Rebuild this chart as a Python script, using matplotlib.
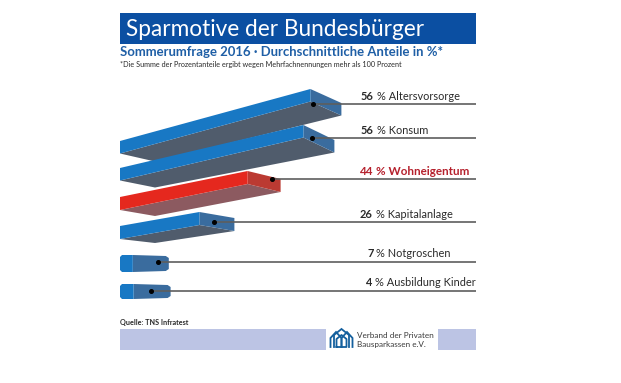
import numpy as np
import matplotlib
matplotlib.use('Agg')
import matplotlib.pyplot as plt
from matplotlib.patches import Polygon, Rectangle

#data

values = [56, 56, 44, 26, 7, 4]
labels = ['Altersvorsorge', 'Konsum', 'Wohneigentum', 'Kapitalanlage', 'Notgroschen', 'Ausbildung Kinder']
highlight = 'Wohneigentum'

title = 'Sparmotive der Bundesbürger'
subtitle = 'Sommerumfrage 2016 · Durchschnittliche Anteile in %*'
footnote = '*Die Summe der Prozentanteile ergibt wegen Mehrfachnennungen mehr als 100 Prozent'
source = 'Quelle: TNS Infratest'
logo_text = ['Verband der Privaten', 'Bausparkassen e.V.']

#layout in pixels of the picture, one entry per row

px_per_value = 3.4
left = 120
length_fix = [0, -7, -22, -9, -11, 0]      # bars are in perspective, not quite to scale
top_left_y = [141, 168, 197, 226, 255, 284]
top_back_y = [89, 125, 171, 212, 254, 284]
thick = [12.5, 12.5, 13, 13, 9, 9]
cap_dx = [31, 31, 33, 35, 36, 37]
cap_dy = [14, 15, 8, 6, 1, 0]
under_dy = [8, 7, 6, 4, 8, 6]
under_dx = [35, 35, 35, 35, 0, 0]
line_y = [103.5, 138, 179, 222, 262, 291]
dot_x = [313, 312, 272, 214, 158, 151]
label_x = [361, 361, 360, 360, 367, 366]
label_gap = [3.5, 3.5, 4, 4, 5, 5]
right = 476

blue = '#1878c4'
blue_cap = '#3a6c9e'
grey = '#505c6c'
red = '#e5281e'
red_cap = '#bb3a32'
red_under = '#8c5a60'
header = '#0b4fa2'
band = '#bcc4e4'
dark = '#2a2a2a'

fig = plt.figure(figsize=(6.21, 3.83), dpi=100)
ax = fig.add_axes([0, 0, 1, 1])
ax.set_xlim(0, 621)
ax.set_ylim(383, 0)
ax.axis('off')
plt.rcParams['font.family'] = 'Lato'

#header

ax.add_patch(Rectangle((120, 13), 356, 31, color=header, lw=0))
ax.text(126, 29, title, color='white', fontsize=16.3, va='center', family='Lato')
ax.text(120, 52.5, subtitle, color='#1f5fa6', fontsize=9.45, va='center', fontweight='bold', family='Lato')
ax.text(120, 64.5, footnote, color=dark, fontsize=5.25, va='center', family='Lato')

#bars

for i in range(len(values)):
    back = left + px_per_value*values[i] + length_fix[i]
    is_red = labels[i] == highlight
    front = red if is_red else blue
    cap = red_cap if is_red else blue_cap
    under = red_under if is_red else grey
    t0, t1, h = top_left_y[i], top_back_y[i], thick[i]
    far = back + cap_dx[i]
    if under_dx[i] > 0:
        ax.add_patch(Polygon([(left, t0+h), (left+under_dx[i], t0+h+under_dy[i]),
                              (far, t1+h+cap_dy[i]), (back, t1+h)], color=under, lw=0, zorder=2))
        ax.add_patch(Polygon([(back, t1), (far, t1+cap_dy[i]), (far, t1+h+cap_dy[i]), (back, t1+h)],
                             color=cap, lw=0, zorder=3))
        ax.add_patch(Polygon([(left, t0), (back, t1), (back, t1+h), (left, t0+h)], color=front, lw=0, zorder=4))
    else:
        # the two short bars are seen almost from the front
        b = t0 + h + under_dy[i]
        ax.add_patch(Polygon([(back, t0), (far-3, t0+1), (far, t0+3), (far, b-3), (far-3, b-1), (back, b)],
                             color=cap, lw=0, zorder=3))
        ax.add_patch(Polygon([(left+2, t0), (back, t0), (back, b), (left+2, b), (left, b-2), (left, t0+2)],
                             color=front, lw=0, zorder=4))

#leader lines and labels

renderer = fig.canvas.get_renderer()
inv = ax.transData.inverted()
for i in range(len(values)):
    ax.plot([dot_x[i], right], [line_y[i], line_y[i]], color='#5e5e5e', lw=1.2, zorder=5, solid_capstyle='butt')
    ax.plot(dot_x[i], line_y[i], 'o', color='black', ms=2.6, zorder=6)
    is_red = labels[i] == highlight
    col = '#b5202c' if is_red else dark
    weight = 'bold' if is_red else 'normal'
    size = 8.4 if is_red else 7.95
    y = line_y[i] - label_gap[i]
    t = ax.text(label_x[i], y, str(values[i]), color=col, fontsize=size, fontweight='bold', va='baseline')
    x_end = inv.transform(t.get_window_extent(renderer).corners()[-1])[0]
    ax.text(x_end + 3, y, '% ' + labels[i], color=col, fontsize=size, fontweight=weight, va='baseline')

#footer

ax.text(120, 322.5, source, color=dark, fontsize=5.2, va='center', fontweight='bold')
ax.add_patch(Rectangle((120, 329), 206, 21, color=band, lw=0))
ax.add_patch(Rectangle((438, 329), 38, 21, color=band, lw=0))

#logo, three nested houses

for dx, w, top in [(-5.5, 3, 332), (5.5, 3, 332), (0, 5, 329)]:
    cx = 341.5 + dx
    ax.plot([cx-w-2.5, cx-w-2.5, cx, cx+w+2.5, cx+w+2.5], [347, top+6, top, top+6, 347], color='#14609e', lw=1.3,
            zorder=3, solid_joinstyle='miter')
ax.plot([cx-w, cx-w, cx, cx+w, cx+w, cx-w], [347, 339, 335, 339, 347, 347], color='#14609e', lw=1.3, zorder=3)
ax.text(357, 335, logo_text[0], color='#3a3a3a', fontsize=5.9, va='center')
ax.text(357, 345, logo_text[1], color='#3a3a3a', fontsize=5.9, va='center')

fig.savefig('out.png', dpi=100)
